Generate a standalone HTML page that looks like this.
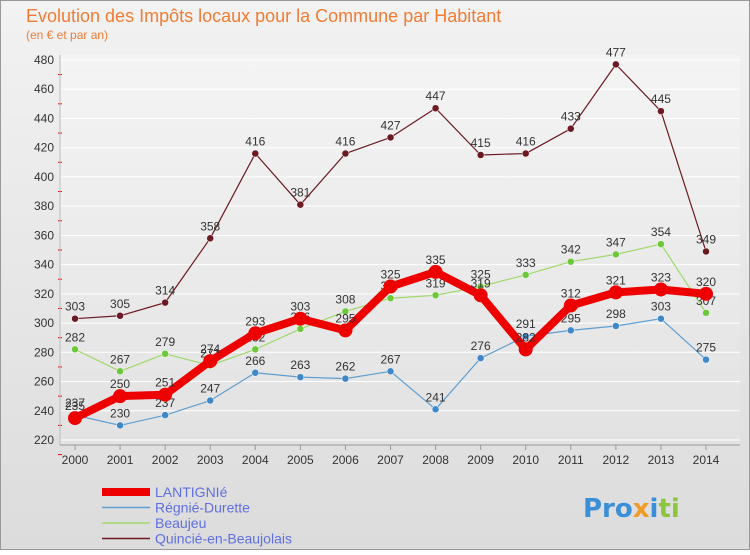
<!DOCTYPE html>
<html><head><meta charset="utf-8"><style>
body{margin:0;width:750px;height:550px;overflow:hidden;font-family:"Liberation Sans","DejaVu Sans",sans-serif;}
</style></head><body>
<svg width="750" height="550" xmlns="http://www.w3.org/2000/svg" id="svg">
<defs><linearGradient id="bg" x1="0" y1="0" x2="0" y2="1"><stop offset="0" stop-color="#f2f2f2"/><stop offset="1" stop-color="#dcdcdc"/></linearGradient>
<linearGradient id="pbg" x1="0" y1="0" x2="0" y2="1"><stop offset="0" stop-color="#f4f4f4"/><stop offset="1" stop-color="#e2e2e2"/></linearGradient></defs>
<rect x="0.5" y="0.5" width="749" height="549" fill="url(#bg)" stroke="#999"/>
<text x="26" y="22" font-size="18" fill="#ef7c34">Evolution des Impôts locaux pour la Commune par Habitant</text>
<text x="26" y="39" font-size="12" fill="#ef7c34">(en € et par an)</text>
<g id="plot"></g>
<g font-size="26" font-weight="bold" font-family="'DejaVu Sans',sans-serif">
<text x="583" y="517" fill="#3a8fd8">Pro<tspan fill="#f09a28">x</tspan><tspan fill="#3a8fd8">i</tspan><tspan fill="#8cc63f">ti</tspan></text></g>
</svg>
<script>
const years=[2000,2001,2002,2003,2004,2005,2006,2007,2008,2009,2010,2011,2012,2013,2014];
const yTicks=[220,240,260,280,300,320,340,360,380,400,420,440,460,480];
const lantignie=[235,250,251,274,293,303,295,325,335,319,282,312,321,323,320];
const regnie=[237,230,237,247,266,263,262,267,241,276,291,295,298,303,275];
const beaujeu=[282,267,279,271,282,296,308,317,319,325,333,342,347,354,307];
const quincie=[303,305,314,358,416,381,416,427,447,415,416,433,477,445,349];
const names=["LANTIGNIé","Régnié-Durette","Beaujeu","Quincié-en-Beaujolais"];
const NS="http://www.w3.org/2000/svg";
const g=document.getElementById('plot');
const X=i=>75+i*(706-75)/14;
const Y=v=>440-(v-220)*(380/260);
function mk(t,a,p){const e=document.createElementNS(NS,t);for(const k in a)e.setAttribute(k,a[k]);(p||g).appendChild(e);return e;}
mk('rect',{x:60,y:55,width:680,height:390,fill:'url(#pbg)'});
yTicks.forEach(v=>{
 const l=mk('line',{x1:60,x2:740,y1:Y(v),y2:Y(v),stroke:'#fff','stroke-width':1});
 
 
 const t=mk('text',{x:54,y:Y(v)+4,'text-anchor':'end','font-size':12,fill:'#333'});t.textContent=v;
 
 
 mk('line',{x1:58,x2:62,y1:Y(v)+14.6,y2:Y(v)+14.6,stroke:'#e00'});
});
mk('line',{x1:60,x2:60,y1:55,y2:445,stroke:'#bbb'});
mk('line',{x1:60,x2:740,y1:445,y2:445,stroke:'#999'});
years.forEach((y,i)=>{
 mk('line',{x1:X(i),x2:X(i),y1:445,y2:450,stroke:'#999'});
 const t=mk('text',{x:X(i),y:464,'text-anchor':'middle','font-size':12,fill:'#333'});t.textContent=y;
 
 
});
const series=[
 {d:quincie,c:'#6b1a22',w:1.2,r:3.5,n:'series-quincie'},
 {d:beaujeu,c:'#9ed86a',w:1.2,r:3.5,fc:'#6cc838',n:'series-beaujeu'},
 {d:regnie,c:'#5f9fd0',w:1.2,r:3.5,fc:'#3f88c8',n:'series-regnie'},
 {d:lantignie,c:'#ee0000',w:8,r:7,n:'series-lantignie'}];
series.forEach(s=>{
 const gg=mk('g',{});
 
 
 mk('polyline',{points:s.d.map((v,i)=>X(i)+','+Y(v)).join(' '),fill:'none',stroke:s.c,'stroke-width':s.w,'stroke-linejoin':'round'},gg);
 s.d.forEach((v,i)=>{
  const p=mk('circle',{cx:X(i),cy:Y(v),r:s.r,fill:s.fc||s.c,stroke:'#fff','stroke-width':s.w>2?0:0.5},gg);
  
  
  const t=mk('text',{x:X(i),y:Y(v)-8,'text-anchor':'middle','font-size':12,fill:'#333'},gg);t.textContent=v;
  
  
 });
});
const leg=[{c:'#ee0000',w:8},{c:'#5f9fd0',w:1.5},{c:'#9ed86a',w:1.5},{c:'#6b1a22',w:1.5}];
leg.forEach((l,i)=>{
 const y=492+i*15.5;
 const gg=mk('g',{});
 
 
 mk('line',{x1:102,x2:150,y1:y,y2:y,stroke:l.c,'stroke-width':l.w},gg);
 const t=mk('text',{x:155,y:y+5,'font-size':14,fill:'#5f6fe0'},gg);t.textContent=names[i];
});
</script>
</body></html>
